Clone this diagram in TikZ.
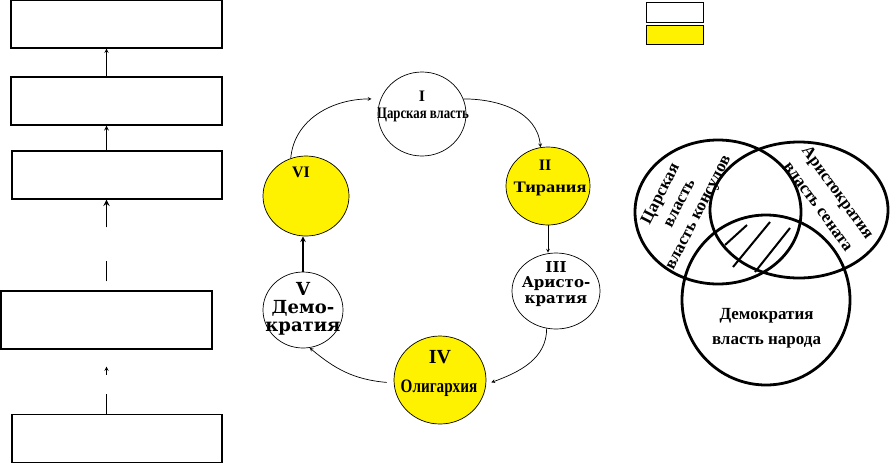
\documentclass[tikz,border=0pt]{standalone}
\usepackage{fontspec}
\setmainfont{Liberation Serif}
\newfontfamily\slabfont{DejaVu Serif}
\usetikzlibrary{shapes.geometric}
\newcommand{\hsc}[2]{\scalebox{#1}[1]{#2}}
\tikzset{
	block/.style={draw,line width=1.2pt,inner sep=0pt,minimum width=211pt,minimum height=48pt},
	key/.style={draw,line width=1pt,inner sep=0pt,minimum width=57pt,minimum height=20pt},
	stage/.style={ellipse,draw,line width=0.7pt,inner sep=0pt},
	stagey/.style={stage,fill=yellow},
	num/.style={font=\bfseries\fontsize{16}{16}\selectfont,inner sep=0pt,anchor=base},
	wnum/.style={font=\slabfont\bfseries\fontsize{15}{15.5}\selectfont,inner sep=0pt,align=center},
	conn/.style={->,line width=0.7pt},
	hop/.style={->,line width=0.9pt},
	venn/.style={line width=2.8pt},
	hatch/.style={line width=2pt},
	vlab/.style={font=\bfseries\fontsize{17}{21}\selectfont,inner sep=0pt,align=center},
	>=stealth,
	}

\begin{document}
\begin{tikzpicture}[x=1pt,y=-1pt]
\useasboundingbox (0,0) rectangle (894,464);

% left column
\node[block] (b1) at (116.5,24) {};
\node[block] (b2) at (116.5,101) {};
\node[block,minimum width=210pt] (b3) at (117,175) {};
\node[block,minimum height=58pt] (b4) at (106.5,320) {};
\node[block,minimum width=210pt] (b5) at (117,438.5) {};
\draw[hop] (b2.north -| b4.north) -- (b1.south -| b4.north);
\draw[hop,line width=1.2pt] (b3.north -| b4.north) -- (b2.south -| b4.north);
\draw[hop,line width=1.8pt,dash pattern=on 20pt off 34pt on 60pt,shorten <=9pt] (b4.north) -- (b3.south -| b4.north);
\draw[hop,dash pattern=on 20pt off 19pt on 30pt,shorten >=17pt] (b5.north -| b4.north) -- (b4.south);

% key
\node[key] (k1) at (674.5,12) {};
\node[key,fill=yellow,minimum height=19pt] (k2) at (674.5,34.5) {};

% cycle
\node[stage,minimum width=88pt,minimum height=84pt] (c1) at (422,114) {};
\node[stagey,minimum width=84pt,minimum height=78pt] (c2) at (548,186) {};
\node[stage,minimum width=88pt,minimum height=76pt] (c3) at (556,291) {};
\node[stagey,minimum width=92pt,minimum height=88pt] (c4) at (440,380) {};
\node[stage,minimum width=80pt,minimum height=76pt] (c5) at (303,310) {};
\node[stagey,minimum width=86pt,minimum height=80pt] (c6) at (306,196) {};

\node[num] (c1-n) at (422,101) {I};
\node[num] (c1-t) at (423,118) {\hsc{0.8}{Царская власть}};
\node[num] (c2-n) at (545,170) {II};
\node[num] (c2-t) at (550,192) {\hsc{1.15}{Тирания}};
\node[wnum] (c3-t) at (556,284) {III\\Аристо-\\кратия};
\node[num,font=\bfseries\fontsize{20}{20}\selectfont] (c4-n) at (440,363) {IV};
\node[num,font=\bfseries\fontsize{19}{19}\selectfont] (c4-t) at (439,392) {\hsc{0.8}{Олигархия}};
\node[wnum,font=\slabfont\bfseries\fontsize{18}{18}\selectfont] (c5-t) at (303,308.5) {V\\Демо-\\кратия};
\node[num] (c6-n) at (301,177) {VI};

\draw[conn] (c6.112) to[out=85,in=180] ([xshift=-9pt]c1.160);
\draw[conn] (c1.20) to[out=0,in=95] (c2.101);
\draw[conn] (c2.south) -- (c2.south |- c3.north);
\draw[conn] (c3.256) to[out=-90,in=20] ([xshift=5pt]c4.357);
\draw[conn] ([xshift=-7pt]c4.183) to[out=175,in=-40] (c5.-80);
\draw[conn,line width=1.5pt] (c5.north) -- (c5.north |- c6.south);

% venn
\coordinate (va) at (718,212);
\coordinate (vb) at (799,210);
\coordinate (vc) at (766,300);
\draw[venn] (va) ellipse (83 and 72);
\draw[venn] (vb) ellipse (89 and 68);
\draw[venn] (vc) ellipse (84 and 85);
\foreach \xa/\ya/\xb/\yb in {725/245/747/225,733/267/770/222,755/272/790/228}
  \draw[hatch] (\xa,\ya) -- (\xb,\yb);

\node[vlab,rotate=63] (t-tsar) at (680,203.5) {Царская\\власть\\власть консулов};
\node[vlab,rotate=-54,font=\bfseries\fontsize{17}{24}\selectfont] (t-arist) at (828.5,199) {Аристократия\\власть сената};
\node[vlab,font=\bfseries\fontsize{17}{25}\selectfont] (t-dem) at (766.5,328) {Демократия\\власть народа};
\end{tikzpicture}
\end{document}
